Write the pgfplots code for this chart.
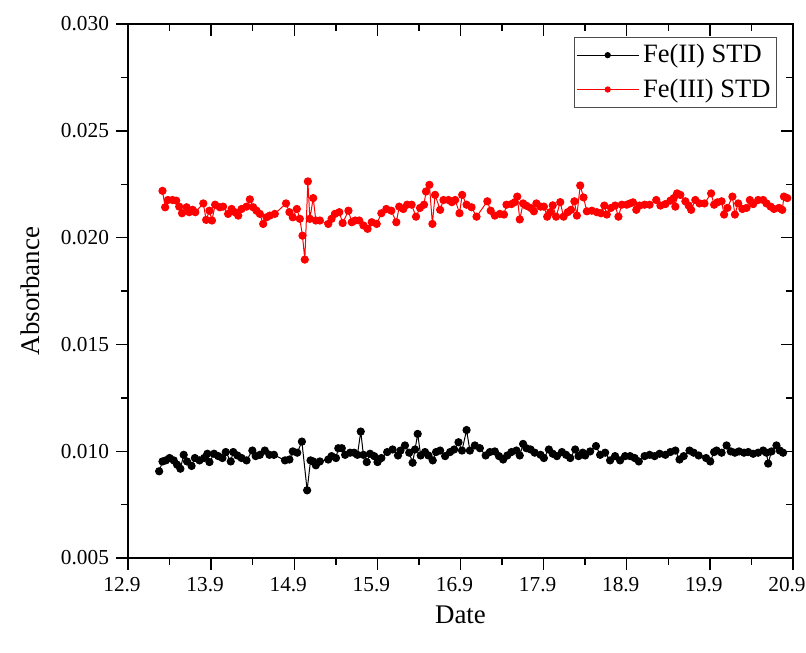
\documentclass[border=0pt]{standalone}
\usepackage{fontspec}
\setmainfont{Liberation Serif}
\usepackage{pgfplots}
\pgfplotsset{compat=1.18}
\begin{document}
\begin{tikzpicture}
\pgfplotsset{
  commonax/.style={
    scale only axis, width=332.5bp, height=267bp,
    xmin=12.9, xmax=20.9, ymin=0.005, ymax=0.030,
    xtick={12.9,13.9,14.9,15.9,16.9,17.9,18.9,19.9,20.9},
    ytick={0.005,0.010,0.015,0.020,0.025,0.030},
    minor x tick num=1, minor y tick num=1,
    scaled y ticks=false,
    axis line style={line width=0.8bp},
    every tick/.style={black, line width=0.7bp},
    major tick length=6bp, minor tick length=3.5bp,
  }
}
\begin{axis}[commonax,
  xtick pos=left, ytick pos=left, tick align=outside,
  /pgf/number format/assume math mode=true,
  tick label style={font=\fontsize{10.7}{12.5}\selectfont},
  x tick label style={xshift=-3bp, /pgf/number format/.cd, fixed, fixed zerofill, precision=1},
  y tick label style={/pgf/number format/.cd, fixed, fixed zerofill, precision=3},
  xlabel={Date}, ylabel={Absorbance},
  every axis x label/.style={at={(axis description cs:0.5,-0.107)}, anchor=center,
    font=\fontsize{13.5}{16}\selectfont},
  every axis y label/.style={at={(axis description cs:-0.147,0.5)}, rotate=90, anchor=center,
    font=\fontsize{13.5}{16}\selectfont},
  legend style={at={(rel axis cs:1,1)}, anchor=north east, xshift=-8bp, yshift=-6.5bp,
    draw=black!70, line width=0.5bp, font=\fontsize{13.3}{15}\selectfont,
    inner xsep=1bp, inner ysep=1.5bp, row sep=2.5bp, cells={anchor=west}},
  legend image code/.code={\draw[mark repeat=2, mark phase=2, mark size=1.3bp]
    plot coordinates {(0bp,0bp) (15.5bp,0bp) (31bp,0bp)};},
]
\addplot[black, line width=0.5bp, mark=*, mark size=1.8bp, mark options={fill=black}] coordinates {
(13.275,0.00906) (13.315,0.00952) (13.355,0.00957) (13.4,0.00968) (13.45,0.00957)
(13.49,0.00937) (13.53,0.00918) (13.57,0.00983) (13.61,0.00952) (13.665,0.00931)
(13.705,0.00968) (13.76,0.00957) (13.815,0.00968) (13.855,0.00988) (13.88,0.00949)
(13.935,0.00988) (13.986,0.00977) (14.036,0.00968) (14.076,0.00996) (14.136,0.00952)
(14.166,0.00996) (14.216,0.0098) (14.266,0.00968) (14.326,0.00957) (14.396,0.01003)
(14.436,0.00977) (14.486,0.00983) (14.546,0.01003) (14.601,0.00983) (14.656,0.00983)
(14.789,0.00957) (14.842,0.00961) (14.882,0.00999) (14.936,0.00993) (14.992,0.01045)
(15.055,0.00817) (15.096,0.00957) (15.128,0.00952) (15.16,0.00934) (15.208,0.00952)
(15.309,0.00961) (15.349,0.00977) (15.402,0.00968) (15.43,0.01014) (15.472,0.01014)
(15.512,0.00983) (15.572,0.00993) (15.619,0.00993) (15.66,0.00983) (15.7,0.01092)
(15.732,0.00983) (15.772,0.00949) (15.812,0.00988) (15.862,0.00977) (15.902,0.00949)
(15.948,0.00968) (16.018,0.00996) (16.083,0.01008) (16.148,0.0098) (16.178,0.01003)
(16.232,0.01027) (16.283,0.00993) (16.324,0.00946) (16.353,0.01008) (16.385,0.01081)
(16.421,0.0098) (16.473,0.00996) (16.514,0.0098) (16.566,0.00957) (16.606,0.00996)
(16.655,0.01003) (16.715,0.00977) (16.775,0.00996) (16.824,0.01008) (16.876,0.01042)
(16.918,0.01003) (16.973,0.01099) (17.013,0.01003) (17.073,0.01027) (17.133,0.01014)
(17.203,0.0098) (17.253,0.00996) (17.313,0.00999) (17.363,0.00977) (17.413,0.00961)
(17.463,0.0098) (17.513,0.00996) (17.573,0.01003) (17.613,0.0098) (17.653,0.01034)
(17.693,0.01014) (17.743,0.01008) (17.793,0.00993) (17.863,0.00983) (17.903,0.00968)
(17.963,0.01008) (18.01,0.00988) (18.06,0.00977) (18.12,0.00996) (18.17,0.00983)
(18.22,0.00968) (18.28,0.01008) (18.32,0.00977) (18.37,0.00993) (18.4,0.0098)
(18.46,0.00999) (18.53,0.01024) (18.58,0.00983) (18.64,0.00993) (18.7,0.00957)
(18.76,0.00977) (18.82,0.00957) (18.88,0.00977) (18.94,0.00977) (18.995,0.00968)
(19.045,0.00952) (19.115,0.00977) (19.175,0.00983) (19.235,0.00977) (19.295,0.00988)
(19.365,0.00983) (19.425,0.00996) (19.485,0.01003) (19.535,0.00961) (19.585,0.00977)
(19.655,0.01003) (19.705,0.00993) (19.765,0.0098) (19.855,0.00968) (19.905,0.00952)
(19.951,0.00996) (19.981,0.01003) (20.041,0.00993) (20.101,0.01027) (20.151,0.00999)
(20.201,0.00993) (20.251,0.00999) (20.311,0.00993) (20.361,0.00996) (20.421,0.00988)
(20.481,0.00993) (20.541,0.01003) (20.581,0.00993) (20.601,0.00942) (20.641,0.00999)
(20.701,0.01027) (20.741,0.01003) (20.781,0.00993)
};
\addlegendentry{Fe(II) STD}
\addplot[red, line width=0.5bp, mark=*, mark size=1.8bp, mark options={fill=red}] coordinates {
(13.315,0.02219) (13.347,0.02142) (13.38,0.02176) (13.436,0.02176) (13.48,0.02173)
(13.516,0.02145) (13.55,0.02114) (13.605,0.02142) (13.637,0.02119) (13.677,0.0213)
(13.71,0.02119) (13.806,0.0216) (13.84,0.02083) (13.88,0.02126) (13.91,0.0208)
(13.948,0.02154) (14.004,0.02142) (14.044,0.02145) (14.104,0.02111) (14.146,0.02134)
(14.186,0.02119) (14.226,0.02103) (14.266,0.02134) (14.326,0.02145) (14.366,0.02179)
(14.406,0.02142) (14.446,0.02126) (14.486,0.02111) (14.526,0.02064) (14.566,0.02095)
(14.606,0.02103) (14.666,0.02111) (14.801,0.0216) (14.842,0.02119) (14.882,0.02095)
(14.931,0.02134) (14.967,0.02088) (14.999,0.02009) (15.027,0.01897) (15.064,0.02263)
(15.088,0.02088) (15.128,0.02185) (15.16,0.0208) (15.208,0.0208) (15.309,0.02064)
(15.349,0.02088) (15.389,0.02111) (15.442,0.02119) (15.482,0.02068) (15.552,0.02126)
(15.592,0.02072) (15.632,0.0208) (15.682,0.0208) (15.732,0.02057) (15.782,0.02041)
(15.832,0.02072) (15.892,0.02064) (15.948,0.02114) (16.008,0.02134) (16.068,0.02126)
(16.128,0.02072) (16.163,0.02145) (16.212,0.02134) (16.258,0.02154) (16.312,0.02154)
(16.365,0.02098) (16.413,0.02139) (16.461,0.02154) (16.485,0.02216) (16.526,0.02247)
(16.562,0.02064) (16.594,0.022) (16.655,0.0213) (16.695,0.02176) (16.756,0.02176)
(16.796,0.02166) (16.836,0.02176) (16.888,0.02114) (16.92,0.022) (16.973,0.02154)
(17.033,0.02142) (17.093,0.02098) (17.223,0.0217) (17.263,0.02126) (17.313,0.02103)
(17.373,0.02111) (17.423,0.02108) (17.453,0.02154) (17.513,0.02157) (17.553,0.02166)
(17.583,0.02192) (17.613,0.02085) (17.653,0.0216) (17.693,0.02149) (17.743,0.02139)
(17.783,0.02123) (17.813,0.0216) (17.863,0.02145) (17.903,0.02145) (17.943,0.02098)
(17.98,0.02119) (18.01,0.02151) (18.05,0.02098) (18.1,0.02166) (18.14,0.02098)
(18.19,0.02119) (18.23,0.0213) (18.27,0.0217) (18.3,0.02103) (18.34,0.02244)
(18.38,0.02188) (18.42,0.02123) (18.48,0.02126) (18.54,0.02119) (18.59,0.02114)
(18.63,0.0215) (18.66,0.02108) (18.71,0.02139) (18.76,0.0215) (18.8,0.02098)
(18.84,0.02154) (18.9,0.02154) (18.94,0.0216) (18.975,0.02165) (19.015,0.0213)
(19.055,0.0215) (19.115,0.02154) (19.175,0.02154) (19.255,0.02176) (19.305,0.0215)
(19.365,0.02157) (19.425,0.02173) (19.465,0.02185) (19.485,0.02145) (19.505,0.02207)
(19.545,0.022) (19.605,0.0217) (19.645,0.0215) (19.675,0.0213) (19.725,0.02176)
(19.775,0.0216) (19.835,0.0216) (19.915,0.02207) (19.951,0.02154) (19.991,0.02165)
(20.041,0.0217) (20.071,0.02108) (20.111,0.02139) (20.171,0.02192) (20.201,0.02108)
(20.241,0.0216) (20.291,0.02134) (20.341,0.02139) (20.381,0.02176) (20.421,0.02157)
(20.481,0.02176) (20.541,0.02176) (20.581,0.0216) (20.631,0.02145) (20.671,0.02134)
(20.731,0.02139) (20.771,0.0213) (20.791,0.02192) (20.831,0.02185)
};
\addlegendentry{Fe(III) STD}
\end{axis}
\begin{axis}[commonax,
  xtick pos=right, ytick pos=right, tick align=inside,
  xticklabels={}, yticklabels={},
]
\end{axis}
\pgfresetboundingbox
\path (current axis.south west) ++(-64bp,-47.5bp) rectangle ++(403bp,326.5bp);
\end{tikzpicture}
\end{document}
